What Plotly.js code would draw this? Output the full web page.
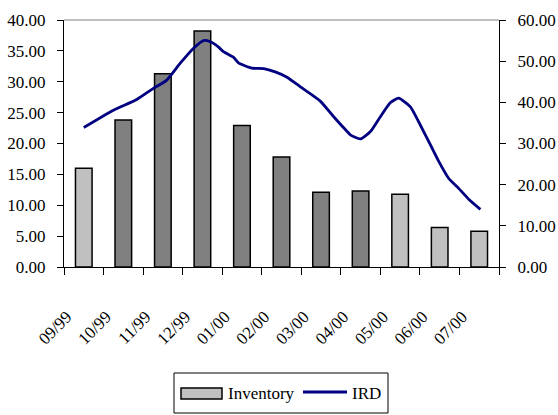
<!DOCTYPE html>
<html>
<head>
<meta charset="utf-8">
<script src="https://cdn.plot.ly/plotly-3.0.1.min.js"></script>
<style>
  html, body { margin: 0; padding: 0; background: #fff; }
  #chart { width: 558px; height: 415px; }
</style>
</head>
<body>
<div id="chart"></div>
<script>
// Monthly inventory (left axis) and IRD curve (right axis)
const months = ['09/99', '10/99', '11/99', '12/99', '01/00', '02/00', '03/00', '04/00', '05/00', '06/00', '07/00'];
const inventory = [16.0, 23.8, 31.3, 38.2, 22.9, 17.8, 12.1, 12.3, 11.8, 6.4, 5.8];
const lightMonths = ['09/99', '05/00', '06/00', '07/00'];

// IRD curve sampled along the month scale (0 = 09/99 ... 10 = 07/00)
const irdPos = [0.0, 0.75, 1.34, 1.76, 2.1, 2.44, 2.77, 3.03, 3.2, 3.41, 3.53, 3.79, 3.91, 4.25, 4.55,
                4.84, 5.14, 5.47, 5.98, 6.32, 6.66, 6.74, 6.99, 7.25, 7.5, 7.75, 7.96, 8.26, 8.51, 8.77,
                8.98, 9.23, 9.48, 9.74, 10.03];
const irdValues = [33.9, 38.1, 40.7, 43.4, 45.4, 49.5, 53.1, 55.0, 54.7, 53.4, 52.3, 50.9, 49.6, 48.3, 48.2,
                   47.4, 46.1, 43.8, 40.3, 36.5, 32.9, 32.1, 31.1, 32.9, 36.5, 39.9, 41.0, 38.9, 34.5, 29.6,
                   25.6, 21.5, 19.1, 16.4, 14.0];

const LIGHT = '#c0c0c0';
const DARK = '#808080';
const NAVY = '#000080';
const FONT = '"Liberation Serif", "Times New Roman", Times, serif';

const W = 558, H = 415;
const M = { l: 64, r: 59, t: 20, b: 148 };
const plotW = W - M.l - M.r, plotH = H - M.t - M.b;
// pixel -> paper helpers for the hand-built legend
const px = x => (x - M.l) / plotW;
const py = y => (H - M.b - y) / plotH;

const bars = {
  type: 'bar',
  name: 'Inventory',
  x: months,
  y: inventory,
  marker: {
    color: months.map(m => lightMonths.includes(m) ? LIGHT : DARK),
    line: { color: '#000', width: 1.5 }
  },
  xaxis: 'x', yaxis: 'y',
  showlegend: false,
  hoverinfo: 'x+y'
};

const ird = {
  type: 'scatter',
  mode: 'lines',
  name: 'IRD',
  x: irdPos,
  y: irdValues,
  line: { color: NAVY, width: 2.8, shape: 'spline', smoothing: 0.5 },
  xaxis: 'x2', yaxis: 'y2',
  showlegend: false
};

const legendBox = { x0: 174, x1: 388, y0: 373, y1: 413 };

const shapes = [
  // top border of the plot area
  { type: 'line', xref: 'paper', yref: 'paper', x0: 0, x1: 1, y0: 1, y1: 1,
    line: { color: '#808080', width: 1 } },
  // legend frame
  { type: 'rect', xref: 'paper', yref: 'paper',
    x0: px(legendBox.x0), x1: px(legendBox.x1), y0: py(legendBox.y1), y1: py(legendBox.y0),
    line: { color: '#000', width: 1 }, fillcolor: 'rgba(0,0,0,0)' },
  // Inventory swatch
  { type: 'rect', xref: 'paper', yref: 'paper',
    x0: px(181), x1: px(222), y0: py(399), y1: py(388),
    line: { color: '#000', width: 1.5 }, fillcolor: LIGHT },
  // IRD swatch
  { type: 'line', xref: 'paper', yref: 'paper',
    x0: px(303), x1: px(347), y0: py(392), y1: py(392),
    line: { color: NAVY, width: 2.8 } }
];

const annotations = [
  { xref: 'paper', yref: 'paper', x: px(226), y: py(393), xanchor: 'left', yanchor: 'middle',
    text: 'Inventory', showarrow: false, font: { family: FONT, size: 17, color: '#000' } },
  { xref: 'paper', yref: 'paper', x: px(350), y: py(393), xanchor: 'left', yanchor: 'middle',
    text: 'IRD', showarrow: false, font: { family: FONT, size: 17, color: '#000' } }
];

const layout = {
  width: W, height: H,
  margin: M,
  paper_bgcolor: '#fff',
  plot_bgcolor: '#fff',
  font: { family: FONT, size: 17, color: '#000' },
  bargap: 0.58,
  showlegend: false,
  xaxis: {
    type: 'category',
    range: [-0.5, 10.5],
    tickson: 'boundaries',
    ticks: 'outside', ticklen: 7, tickwidth: 1, tickcolor: '#000',
    tickangle: -45,
    ticklabelstandoff: 32,
    ticklabelshift: -17,
    showline: true, linecolor: '#000', linewidth: 1.2,
    showgrid: false, zeroline: false,
    tickfont: { family: FONT, size: 17, color: '#000' }
  },
  xaxis2: {
    overlaying: 'x', anchor: 'y',
    range: [-0.5, 10.5],
    visible: false, showgrid: false, zeroline: false
  },
  yaxis: {
    range: [0, 40], dtick: 5, tick0: 0,
    tickformat: '.2f',
    ticks: 'outside', ticklen: 6, tickwidth: 1, tickcolor: '#000',
    ticklabelstandoff: 8,
    showline: true, linecolor: '#000', linewidth: 1.2,
    showgrid: false, zeroline: false,
    tickfont: { family: FONT, size: 17, color: '#000' }
  },
  yaxis2: {
    overlaying: 'y', side: 'right', anchor: 'x',
    range: [0, 60], dtick: 10, tick0: 0,
    tickformat: '.2f',
    ticks: 'outside', ticklen: 6, tickwidth: 1, tickcolor: '#000',
    ticklabelstandoff: 8,
    showline: true, linecolor: '#000', linewidth: 1.2,
    showgrid: false, zeroline: false,
    tickfont: { family: FONT, size: 17, color: '#000' }
  },
  shapes: shapes,
  annotations: annotations
};

Plotly.newPlot('chart', [bars, ird], layout, { displayModeBar: false, staticPlot: true });
</script>
</body>
</html>
